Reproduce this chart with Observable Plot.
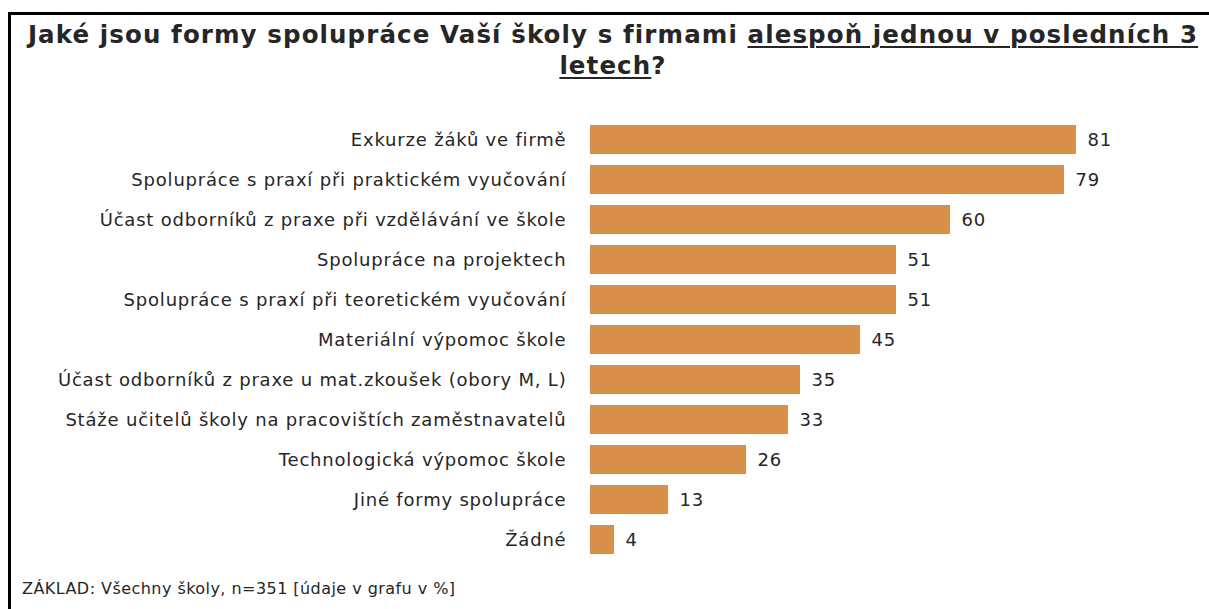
<!DOCTYPE html>
<html>
<head>
<meta charset="utf-8">
<script src="https://cdn.jsdelivr.net/npm/d3@7"></script>
<script src="https://cdn.jsdelivr.net/npm/@observablehq/plot@0.6"></script>
<style>
  body { margin: 0; background: #fff; width: 1209px; height: 609px; overflow: hidden; position: relative; font-family: "DejaVu Sans", Verdana, sans-serif; }
  #frame { position: absolute; left: 8px; top: 12px; width: 1300px; height: 700px; border-top: 3px solid #000; border-left: 3px solid #000; }
  #title { position: absolute; left: 14px; width: 1198px; top: 19px; text-align: center; font-weight: bold; font-size: 24.5px; letter-spacing: 1.1px; line-height: 32px; color: #262626; white-space: nowrap; }
  #title div { height: 31px; }
  #title u { text-decoration-thickness: 2px; text-underline-offset: 3px; }
  #chart { position: absolute; left: 0; top: 100px; }
  #chart svg text { letter-spacing: 0.8px; }
  #note { position: absolute; left: 22px; top: 579px; font-size: 16px; letter-spacing: 0.45px; color: #262626; }
</style>
</head>
<body>
<div id="frame"></div>
<div id="title">
  <div>Jaké jsou formy spolupráce Vaší školy s firmami <u>alespoň jednou v posledních 3</u></div>
  <div><u>letech</u>?</div>
</div>
<div id="chart"></div>
<div id="note">ZÁKLAD: Všechny školy, n=351 [údaje v grafu v %]</div>
<script>
const categories = [
  "Exkurze žáků ve firmě",
  "Spolupráce s praxí při praktickém vyučování",
  "Účast odborníků z praxe při vzdělávání ve škole",
  "Spolupráce na projektech",
  "Spolupráce s praxí při teoretickém vyučování",
  "Materiální výpomoc škole",
  "Účast odborníků z praxe u mat.zkoušek (obory M, L)",
  "Stáže učitelů školy na pracovištích zaměstnavatelů",
  "Technologická výpomoc škole",
  "Jiné formy spolupráce",
  "Žádné"
];
const values = [81, 79, 60, 51, 51, 45, 35, 33, 26, 13, 4];

const data = categories.map((c, i) => ({category: c, value: values[i]}));

const chart = Plot.plot({
  width: 1209,
  height: 470,
  marginLeft: 590,
  marginRight: 19,
  marginTop: 13,
  marginBottom: 3.5,
  style: {fontFamily: "'DejaVu Sans', Verdana, sans-serif", fontSize: "18px", color: "#262626", background: "transparent"},
  x: {domain: [0, 100], axis: null},
  y: {domain: categories, padding: 0.28, label: null},
  marks: [
    Plot.barX(data, {x: "value", y: "category", fill: "#D98F4A"}),
    Plot.text(data, {x: "value", y: "category", text: d => String(d.value), textAnchor: "start", dx: 11, fontSize: 18, fill: "#262626"}),
    Plot.axisY({tickSize: 0, tickPadding: 24, fontSize: 18, label: null, color: "#262626"})
  ]
});
document.getElementById("chart").appendChild(chart);
</script>
</body>
</html>
